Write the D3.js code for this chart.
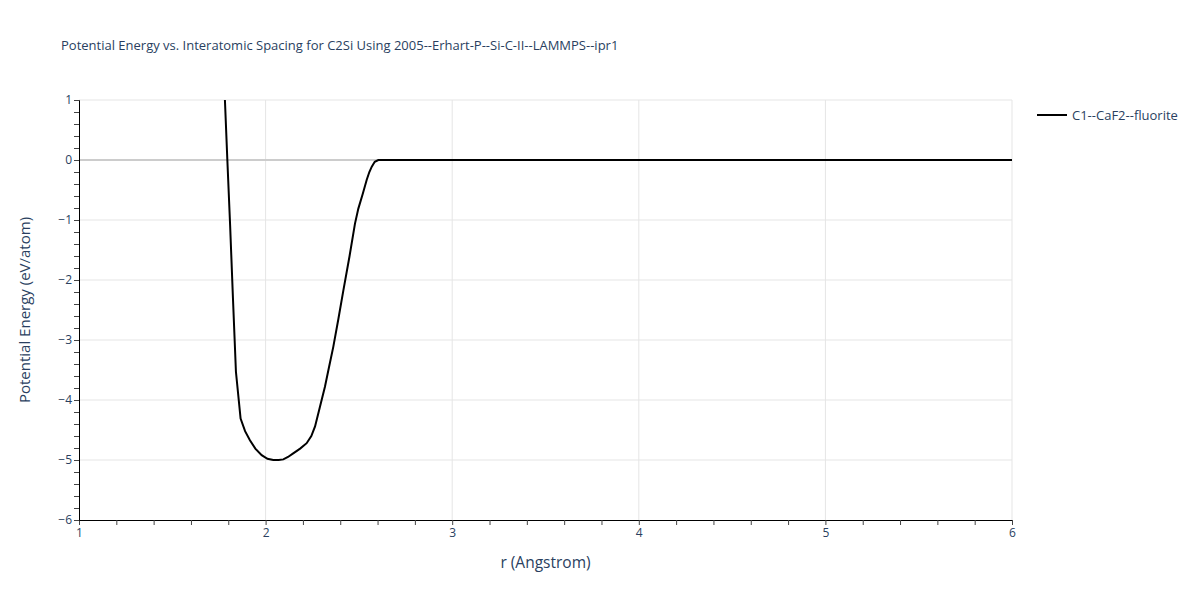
<!DOCTYPE html>
<html>
<head>
<meta charset="utf-8">
<script src="https://cdn.jsdelivr.net/npm/d3@7"></script>
<style>
  body { margin: 0; background: #fff; }
  text { font-family: "Open Sans", verdana, arial, sans-serif; fill: #2a3f5f; }
</style>
</head>
<body>
<svg id="chart"></svg>
<script>
const chartTitle = "Potential Energy vs. Interatomic Spacing for C2Si Using 2005--Erhart-P--Si-C-II--LAMMPS--ipr1"
const seriesName = "C1--CaF2--fluorite"
const rValues = [1.782, 1.795, 1.81, 1.825, 1.841, 1.866, 1.89, 1.916, 1.945, 1.979, 2.01, 2.041, 2.07, 2.095, 2.12, 2.148, 2.185, 2.22, 2.245, 2.265, 2.29, 2.318, 2.34, 2.363, 2.39, 2.417, 2.45, 2.479, 2.497, 2.52, 2.542, 2.556, 2.569, 2.585, 2.604, 2.7, 3, 3.5, 4, 4.5, 5, 5.5, 6]
const energyValues = [1.0, 0.0, -1.1, -2.3, -3.53, -4.31, -4.52, -4.67, -4.81, -4.92, -4.98, -5.0, -5.0, -4.99, -4.95, -4.89, -4.81, -4.72, -4.6, -4.44, -4.13, -3.78, -3.45, -3.11, -2.65, -2.17, -1.6, -1.06, -0.81, -0.57, -0.33, -0.2, -0.11, -0.03, 0, 0, 0, 0, 0, 0, 0, 0, 0]
const xTicks = [1, 2, 3, 4, 5, 6]
const yTicks = [1, 0, -1, -2, -3, -4, -5, -6]

const width = 1200, height = 600
const margin = { top: 100, right: 188, bottom: 80, left: 79 }
const plotW = width - margin.left - margin.right
const plotH = height - margin.top - margin.bottom

const svg = d3.select("#chart").attr("width", width).attr("height", height)

const x = d3.scaleLinear().domain([1, 6]).range([margin.left, margin.left + plotW])
const y = d3.scaleLinear().domain([-6, 1]).range([margin.top + plotH, margin.top])

// grid
svg.append("g")
  .selectAll("line")
  .data(xTicks.filter(d => d !== 1))
  .enter()
  .append("line")
  .attr("x1", d => x(d)).attr("x2", d => x(d))
  .attr("y1", margin.top).attr("y2", margin.top + plotH)
  .attr("stroke", "#e5e5e5").attr("stroke-width", 1)

svg.append("g")
  .selectAll("line")
  .data(yTicks.filter(d => d !== -6))
  .enter()
  .append("line")
  .attr("x1", margin.left).attr("x2", margin.left + plotW)
  .attr("y1", d => y(d)).attr("y2", d => y(d))
  .attr("stroke", d => d === 0 ? "#cccccc" : "#e5e5e5")
  .attr("stroke-width", d => d === 0 ? 2 : 1)

// axes
const fmt = d => d < 0 ? "\u2212" + Math.abs(d) : String(d)
const isMajor = d => Math.abs(d - Math.round(d)) < 1e-6

const xAxis = svg.append("g")
  .attr("transform", "translate(0," + (margin.top + plotH) + ")")
  .call(d3.axisBottom(x).tickValues(d3.range(1, 6.01, 0.2)).tickSize(5)
    .tickFormat(d => isMajor(d) ? fmt(Math.round(d)) : ""))
xAxis.select(".domain").attr("stroke", "#000")
xAxis.selectAll(".tick line").attr("stroke", "#444")
xAxis.selectAll(".tick text").attr("font-size", 12).attr("dy", "0.9em").attr("y", 6)

const yAxis = svg.append("g")
  .attr("transform", "translate(" + margin.left + ",0)")
  .call(d3.axisLeft(y).tickValues(d3.range(-6, 1.01, 0.2)).tickSize(5)
    .tickFormat(d => isMajor(d) ? fmt(Math.round(d)) : ""))
yAxis.select(".domain").attr("stroke", "#000")
yAxis.selectAll(".tick line").attr("stroke", "#444")
yAxis.selectAll(".tick text").attr("font-size", 12).attr("x", -7)

// line
const line = d3.line().x((d, i) => x(rValues[i])).y(d => y(d))
svg.append("path")
  .datum(energyValues)
  .attr("fill", "none")
  .attr("stroke", "#000")
  .attr("stroke-width", 2)
  .attr("d", line)

// titles
svg.append("text")
  .attr("x", 61).attr("y", 50)
  .attr("font-size", 13)
  .text(chartTitle)

svg.append("text")
  .attr("x", margin.left + plotW / 2).attr("y", 568)
  .attr("text-anchor", "middle")
  .attr("font-size", 15.5)
  .text("r (Angstrom)")

svg.append("text")
  .attr("transform", "translate(30," + (margin.top + plotH / 2) + ") rotate(-90)")
  .attr("text-anchor", "middle")
  .attr("font-size", 15)
  .text("Potential Energy (eV/atom)")

// legend
const legend = svg.append("g").attr("transform", "translate(1037,115)")
legend.append("line").attr("x1", 0).attr("x2", 30).attr("y1", 0).attr("y2", 0)
  .attr("stroke", "#000").attr("stroke-width", 2)
legend.append("text").attr("x", 35).attr("y", 4.5).attr("font-size", 13).text(seriesName)
</script>
</body>
</html>
